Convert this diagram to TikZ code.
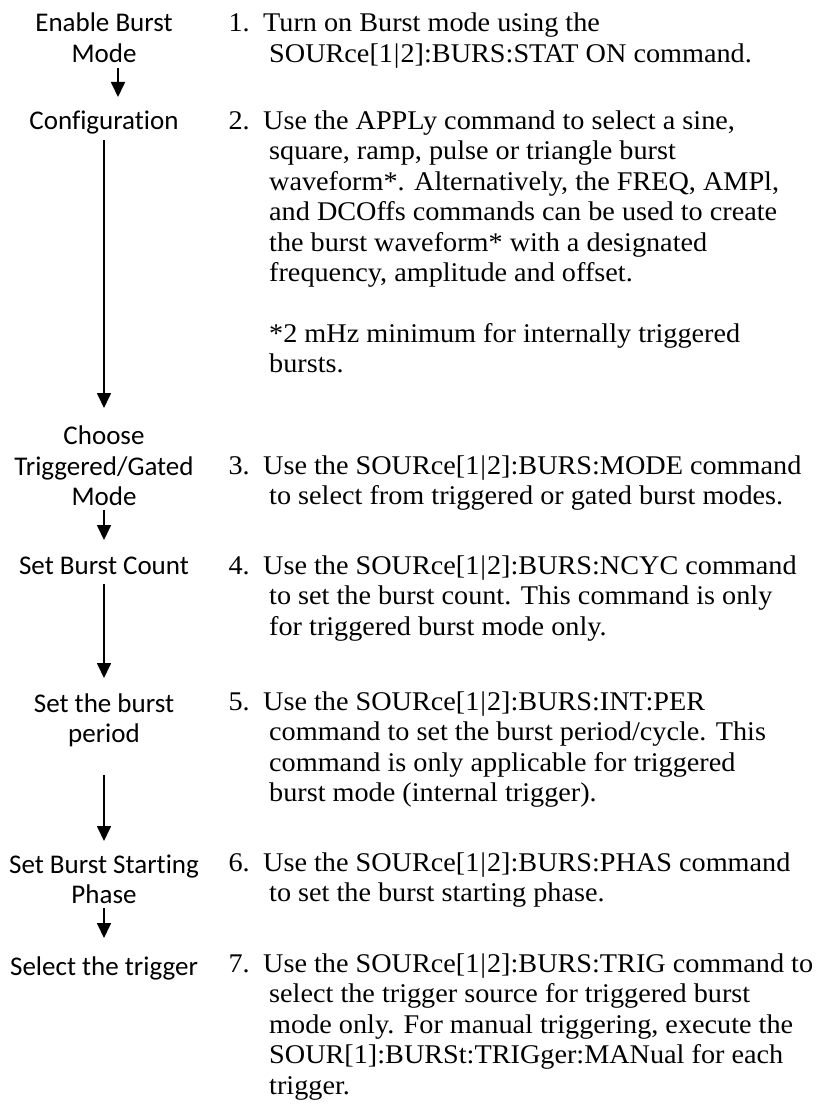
\documentclass[tikz,border=0pt]{standalone}
\usepackage{fontspec}
\usetikzlibrary{arrows.meta}
\newfontfamily\lfont[Ligatures={NoCommon}]{Carlito}
\newfontfamily\rfont[FakeStretch=1.045]{Liberation Serif}
\newcommand\pipechar{\kern1pt|\kern1pt}
\tikzset{
  lbl/.style={font=\lfont\fontsize{27}{30}\selectfont, anchor=base, inner sep=0pt},
  txt/.style={font=\rfont\fontsize{27}{30}\selectfont, anchor=base west, inner sep=0pt},
  num/.style={font=\rfont\fontsize{27}{30}\selectfont, anchor=base east, inner sep=0pt},
  flow/.style={line width=1.7pt, -{Triangle[width=14pt,length=15pt]}}
}
\begin{document}
\begin{tikzpicture}[x=1pt,y=-1pt]
\useasboundingbox (0,0) rectangle (818,1105);
% ---- left flow labels
\node[lbl] (l1a) at (104,32) {Enable Burst};
\node[lbl] (l1b) at (104,63) {Mode};
\node[lbl] (l2)  at (104,129) {Configuration};
\node[lbl] (l3a) at (104,444) {Choose};
\node[lbl] (l3b) at (104,475) {Triggered/Gated};
\node[lbl] (l3c) at (104,505) {Mode};
\node[lbl] (l4)  at (104,574) {Set Burst Count};
\node[lbl] (l5a) at (104,712) {Set the burst};
\node[lbl] (l5b) at (104,742) {period};
\node[lbl] (l6a) at (104,873) {Set Burst Starting};
\node[lbl] (l6b) at (104,903) {Phase};
\node[lbl] (l7)  at (104,975) {Select the trigger};
% ---- arrows
\coordinate (a1s) at (118,68);  \coordinate (a1e) at (118,97);
\coordinate (a2s) at (104,140); \coordinate (a2e) at (104,408);
\coordinate (a3s) at (104,510); \coordinate (a3e) at (104,540);
\coordinate (a4s) at (104,584); \coordinate (a4e) at (104,678);
\coordinate (a5s) at (104,775); \coordinate (a5e) at (104,841);
\coordinate (a6s) at (104,908); \coordinate (a6e) at (104,938);
\draw[flow] (a1s) -- (a1e);
\draw[flow] (a2s) -- (a2e);
\draw[flow] (a3s) -- (a3e);
\draw[flow] (a4s) -- (a4e);
\draw[flow] (a5s) -- (a5e);
\draw[flow] (a6s) -- (a6e);
% ---- right steps
\node[num] (n1) at (250,32) {1.};
\node[txt] (t1a) at (263,32) {Turn on Burst mode using the};
\node[txt] (t1b) at (269,62.5) {SOURce[1\pipechar 2]:BURS:STAT ON command.};
\node[num] (n2) at (250,129) {2.};
\node[txt] (t2a) at (263,129) {Use the APPLy command to select a sine,};
\node[txt] (t2b) at (269,159.5) {square, ramp, pulse or triangle burst};
\node[txt] (t2c) at (269,190) {waveform*. Alternatively, the FREQ, AMPl,};
\node[txt] (t2d) at (269,220.5) {and DCOffs commands can be used to create};
\node[txt] (t2e) at (269,251) {the burst waveform* with a designated};
\node[txt] (t2f) at (269,281.5) {frequency, amplitude and offset.};
\node[txt] (t2g) at (269,342) {*2 mHz minimum for internally triggered};
\node[txt] (t2h) at (269,372.5) {bursts.};
\node[num] (n3) at (250,474) {3.};
\node[txt] (t3a) at (263,474) {Use the SOURce[1\pipechar 2]:BURS:MODE command};
\node[txt] (t3b) at (269,504.5) {to select from triggered or gated burst modes.};
\node[num] (n4) at (250,574) {4.};
\node[txt] (t4a) at (263,574) {Use the SOURce[1\pipechar 2]:BURS:NCYC command};
\node[txt] (t4b) at (269,604.5) {to set the burst count. This command is only};
\node[txt] (t4c) at (269,635) {for triggered burst mode only.};
\node[num] (n5) at (250,710) {5.};
\node[txt] (t5a) at (263,710) {Use the SOURce[1\pipechar 2]:BURS:INT:PER};
\node[txt] (t5b) at (269,740.5) {command to set the burst period/cycle. This};
\node[txt] (t5c) at (269,771) {command is only applicable for triggered};
\node[txt] (t5d) at (269,801.5) {burst mode (internal trigger).};
\node[num] (n6) at (250,871) {6.};
\node[txt] (t6a) at (263,871) {Use the SOURce[1\pipechar 2]:BURS:PHAS command};
\node[txt] (t6b) at (269,901.5) {to set the burst starting phase.};
\node[num] (n7) at (250,972) {7.};
\node[txt] (t7a) at (263,972) {Use the SOURce[1\pipechar 2]:BURS:TRIG command to};
\node[txt] (t7b) at (269,1002.5) {select the trigger source for triggered burst};
\node[txt] (t7c) at (269,1033) {mode only. For manual triggering, execute the};
\node[txt] (t7d) at (269,1063.5) {SOUR[1]:BURSt:TRIGger:MANual for each};
\node[txt] (t7e) at (269,1094) {trigger.};
\end{tikzpicture}
\end{document}
